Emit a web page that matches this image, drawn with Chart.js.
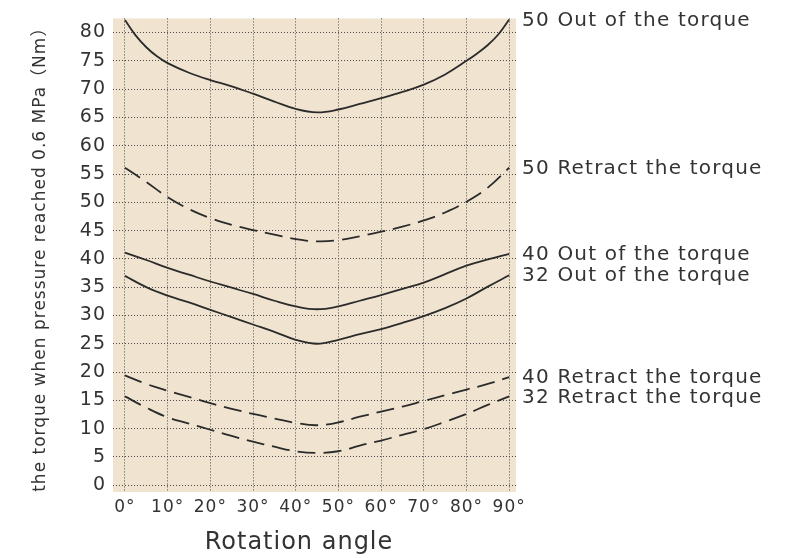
<!DOCTYPE html>
<html>
<head>
<meta charset="utf-8">
<script src="https://cdn.jsdelivr.net/npm/chart.js@4/dist/chart.umd.min.js"></script>
<style>
  html, body { margin: 0; padding: 0; background: #ffffff; }
  #wrap { width: 792px; height: 558px; }
</style>
</head>
<body>
<div id="wrap"><canvas id="c" width="792" height="558"></canvas></div>
<script>
// Rotation angle (degrees) at which the torque curves are sampled
const angles = [0, 5, 10, 15, 20, 25, 30, 35, 40, 45, 50, 55, 60, 65, 70, 75, 80, 85, 90];
// The bore-50 extend curve bends sharply near both ends, so it is sampled more densely there
const anglesOut50 = [0, 2.5, 5, 7.5, 10, 15, 20, 25, 30, 35, 40, 45, 50, 55, 60, 65, 70, 75, 80, 82.5, 85, 87.5, 90];

// Torque (Nm) at 0.6 MPa for each cylinder bore and stroke direction
const out50 = [82.2, 79.5, 77.4, 75.8, 74.6, 72.9, 71.6, 70.5, 69.2, 67.8, 66.5, 65.9, 66.4, 67.4, 68.4, 69.5, 70.8, 72.6, 75.0, 76.3, 77.8, 79.7, 82.3];
const ret50 = [56.1, 53.6, 50.9, 48.8, 47.2, 46.0, 45.1, 44.3, 43.5, 43.1, 43.3, 44.0, 44.8, 45.7, 46.8, 48.2, 50.1, 52.6, 56.1];
const out40 = [41.1, 39.8, 38.4, 37.2, 36.0, 34.9, 33.8, 32.6, 31.6, 31.1, 31.6, 32.6, 33.6, 34.7, 35.8, 37.3, 38.8, 39.9, 40.9];
const out32 = [37.0, 35.0, 33.5, 32.3, 31.0, 29.7, 28.4, 27.1, 25.7, 25.0, 25.7, 26.7, 27.6, 28.7, 29.9, 31.3, 33.0, 35.1, 37.1];
const ret40 = [19.4, 17.9, 16.7, 15.6, 14.5, 13.5, 12.6, 11.8, 11.0, 10.6, 11.1, 12.1, 13.0, 13.9, 14.9, 15.9, 16.9, 17.9, 19.1];
const ret32 = [15.7, 13.7, 12.0, 10.9, 9.8, 8.7, 7.7, 6.8, 6.0, 5.7, 6.0, 7.0, 7.9, 8.9, 9.9, 11.2, 12.6, 14.2, 15.7];

const seriesNames = [
  '50 Out of the torque',
  '50 Retract the torque',
  '40 Out of the torque',
  '32 Out of the torque',
  '40 Retract the torque',
  '32 Retract the torque'
];
const seriesValues = [out50, ret50, out40, out32, ret40, ret32];
const seriesAngles = [anglesOut50, angles, angles, angles, angles, angles];
const seriesDashed = [false, true, false, false, true, true];

// Axis tick values
const xTicks = [0, 10, 20, 30, 40, 50, 60, 70, 80, 90];
const yTicks = [0, 5, 10, 15, 20, 25, 30, 35, 40, 45, 50, 55, 60, 65, 70, 75, 80];

const xTitle = 'Rotation angle';
const yTitle = 'the torque when pressure reached 0.6 MPa（Nm）';

const FONT = "'DejaVu Sans', 'Noto Sans CJK SC', sans-serif";
const INK = '#2b2b2b';
const TEXT = '#333333';

const datasets = seriesValues.map((vals, i) => ({
  label: seriesNames[i],
  data: seriesAngles[i].map((a, k) => ({ x: a, y: vals[k] })),
  borderColor: INK,
  borderWidth: 1.8,
  borderDash: seriesDashed[i] ? [18, 8] : [],
  pointRadius: 0,
  fill: false,
  tension: 0.4
}));

// Beige plot background and wide letter spacing for all text
const plotBackground = {
  id: 'plotBackground',
  beforeDraw(chart) {
    const { ctx, chartArea: a } = chart;
    ctx.save();
    ctx.fillStyle = '#f0e4d0';
    ctx.fillRect(a.left, a.top, a.right - a.left, a.bottom - a.top);
    ctx.restore();
    ctx.letterSpacing = '1px';
  }
};

// Series names just right of each curve's end point, and the x-axis title
const annotations = {
  id: 'annotations',
  afterDatasetsDraw(chart) {
    const { ctx, chartArea: a } = chart;
    ctx.save();
    ctx.font = '20px ' + FONT;
    ctx.letterSpacing = '1.2px';
    ctx.fillStyle = TEXT;
    ctx.textAlign = 'left';
    ctx.textBaseline = 'middle';
    chart.data.datasets.forEach((ds, i) => {
      const pts = chart.getDatasetMeta(i).data;
      const last = pts[pts.length - 1];
      ctx.fillText(ds.label, a.right + 6, last.y + 1);
    });

    ctx.font = '24px ' + FONT;
    ctx.letterSpacing = '1px';
    ctx.textAlign = 'center';
    ctx.fillText(xTitle, a.left + 186, a.bottom + 51);
    ctx.restore();
  }
};

new Chart(document.getElementById('c'), {
  type: 'line',
  data: { datasets },
  plugins: [plotBackground, annotations],
  options: {
    responsive: false,
    animation: false,
    layout: { padding: { top: 15, right: 276, left: 0, bottom: 0 } },
    plugins: { legend: { display: false }, tooltip: { enabled: false } },
    scales: {
      x: {
        type: 'linear',
        min: -2.8,
        max: 91.6,
        afterBuildTicks(scale) { scale.ticks = xTicks.map(v => ({ value: v })); },
        afterFit(scale) { scale.height = 66; },
        grid: { color: '#4a4a4a', lineWidth: 1, drawTicks: false },
        border: { display: false, dash: [1, 2] },
        ticks: {
          padding: 5,
          color: TEXT,
          font: { family: FONT, size: 17 },
          maxRotation: 0,
          autoSkip: false,
          callback: v => v + '°'
        }
      },
      y: {
        type: 'linear',
        min: -1.2,
        max: 82.5,
        afterBuildTicks(scale) { scale.ticks = yTicks.map(v => ({ value: v })); },
        afterFit(scale) { scale.width = 113; },
        grid: { color: '#4a4a4a', lineWidth: 1, drawTicks: false },
        border: { display: false, dash: [1, 2] },
        ticks: {
          padding: 7,
          color: TEXT,
          font: { family: FONT, size: 19 },
          autoSkip: false
        },
        title: {
          display: true,
          text: yTitle,
          color: TEXT,
          font: { family: FONT, size: 17, lineHeight: 1.2 },
          padding: { top: 30, bottom: 0 }
        }
      }
    }
  }
});
</script>
</body>
</html>
